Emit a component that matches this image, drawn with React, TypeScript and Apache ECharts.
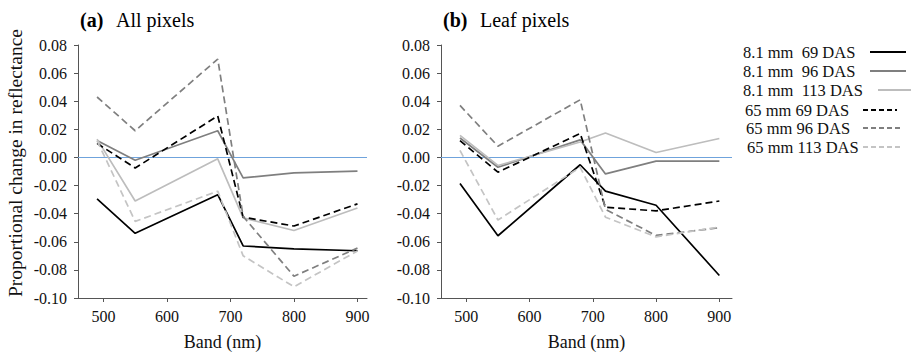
import React, { useEffect, useRef } from "react";
import * as echarts from "echarts";

const bands = [490, 550, 680, 720, 800, 900];
const bandTicks = [500, 600, 700, 800, 900];
const zeroLine = [0];
const seriesNames = [
  "8.1 mm  69 DAS",
  "8.1 mm  96 DAS",
  "8.1 mm  113 DAS",
  "65 mm 69 DAS",
  "65 mm 96 DAS",
  "65 mm 113 DAS",
];
const panelTitles = ["(a)", "(b)"];
const panelSubtitles = ["All pixels", "Leaf pixels"];

// (a) All pixels
const all81mm69 = [-0.0295, -0.054, -0.0265, -0.063, -0.065, -0.0664];
const all81mm96 = [0.012, -0.002, 0.019, -0.0145, -0.011, -0.0098];
const all81mm113 = [0.013, -0.031, -0.001, -0.043, -0.052, -0.036];
const all65mm69 = [0.01, -0.0075, 0.0295, -0.0425, -0.0488, -0.033];
const all65mm96 = [0.043, 0.019, 0.07, -0.042, -0.0845, -0.0645];
const all65mm113 = [0.012, -0.0455, -0.024, -0.07, -0.092, -0.0665];

// (b) Leaf pixels
const leaf81mm69 = [-0.0185, -0.0557, -0.0052, -0.024, -0.034, -0.084];
const leaf81mm96 = [0.0138, -0.007, 0.0125, -0.0117, -0.0026, -0.0026];
const leaf81mm113 = [0.0157, -0.0057, 0.011, 0.0174, 0.0035, 0.0135];
const leaf65mm69 = [0.012, -0.0105, 0.017, -0.0355, -0.038, -0.031];
const leaf65mm96 = [0.037, 0.008, 0.041, -0.037, -0.0555, -0.05];
const leaf65mm113 = [0.005, -0.0445, -0.007, -0.0425, -0.0565, -0.0495];

const allPixels = [all81mm69, all81mm96, all81mm113, all65mm69, all65mm96, all65mm113];
const leafPixels = [leaf81mm69, leaf81mm96, leaf81mm113, leaf65mm69, leaf65mm96, leaf65mm113];

const FAMILY = "Liberation Serif, Times New Roman, serif";
const FONTSTACK = "'Liberation Serif', 'Times New Roman', serif";
const lineColors = ["#000000", "#7f7f7f", "#bdbdbd", "#000000", "#7f7f7f", "#c4c4c4"];
const dashed = [false, false, false, true, true, true];
const DASH = [7, 4];
const ZERO_COLOR = "#6fa3dc";

// legend layout (visual positions only)
const legendRows = [
  { tx: 743, y: 52, x1: 870, x2: 906 },
  { tx: 743, y: 71, x1: 870, x2: 906 },
  { tx: 743, y: 90, x1: 878, x2: 911 },
  { tx: 745, y: 110, x1: 863, x2: 897 },
  { tx: 746, y: 128, x1: 863, x2: 900 },
  { tx: 747, y: 147, x1: 863, x2: 900 },
];

function App() {
  const ref = useRef<HTMLDivElement>(null);
  useEffect(() => {
    if (!ref.current) return;
    const chart = echarts.init(ref.current, undefined, { renderer: "svg" });

    const axisColor = "#555555";
    const mkX = (idx: number, max: number) => ({
      type: "value",
      gridIndex: idx,
      min: 460,
      max,
      name: "Band (nm)",
      nameLocation: "middle",
      nameGap: 35,
      nameTextStyle: { fontFamily: FAMILY, fontSize: 18, color: "#111" },
      axisLine: { show: true, onZero: false, lineStyle: { color: axisColor, width: 1 } },
      axisTick: { show: true, length: 4, customValues: bandTicks, lineStyle: { color: axisColor } },
      axisLabel: {
        customValues: bandTicks,
        fontFamily: FAMILY,
        fontSize: 16,
        color: "#111",
        margin: 10,
      },
      splitLine: { show: false },
    });
    const mkY = (idx: number) => ({
      type: "value",
      gridIndex: idx,
      min: -0.1,
      max: 0.08,
      interval: 0.02,
      axisLine: { show: true, onZero: false, lineStyle: { color: axisColor, width: 1 } },
      axisTick: { show: true, length: 4, lineStyle: { color: axisColor } },
      axisLabel: {
        fontFamily: FAMILY,
        fontSize: 16,
        color: "#111",
        margin: 11,
        formatter: (v: number) => (Math.abs(v) < 1e-9 ? "0.00" : v.toFixed(2)),
      },
      splitLine: { show: false },
    });

    const series: any[] = [];
    [allPixels, leafPixels].forEach((panel, p) => {
      panel.forEach((vals, i) => {
        const s: any = {
          name: seriesNames[i],
          type: "line",
          xAxisIndex: p,
          yAxisIndex: p,
          data: bands.map((b, k) => [b, vals[k]]),
          symbol: "none",
          color: lineColors[i],
          lineStyle: {
            color: lineColors[i],
            width: 1.7,
            type: dashed[i] ? DASH : "solid",
          },
          z: 3 + i,
        };
        if (i === 0) {
          s.markLine = {
            silent: true,
            symbol: ["none", "none"],
            label: { show: false },
            itemStyle: { color: ZERO_COLOR },
            lineStyle: { color: ZERO_COLOR, width: 1.2, type: "solid", opacity: 1 },
            data: zeroLine.map((v) => ({
              yAxis: v,
              lineStyle: { color: ZERO_COLOR, width: 1.2, type: "solid" },
            })),
            z: 1,
          };
        }
        series.push(s);
      });
    });

    const graphics: any[] = [];
    const titleX = [80, 443];
    const subX = [116, 480];
    for (let p = 0; p < 2; p++) {
      graphics.push({
        type: "text",
        x: titleX[p],
        y: 20,
        style: {
          text: panelTitles[p],
          font: `bold 20px ${FONTSTACK}`,
          fill: "#000",
          verticalAlign: "middle",
        },
      });
      graphics.push({
        type: "text",
        x: subX[p],
        y: 20,
        style: {
          text: panelSubtitles[p],
          font: `20px ${FONTSTACK}`,
          fill: "#000",
          verticalAlign: "middle",
        },
      });
    }
    graphics.push({
      type: "text",
      x: 15,
      y: 163,
      rotation: Math.PI / 2,
      style: {
        text: "Proportional change in reflectance",
        font: `19.5px ${FONTSTACK}`,
        fill: "#111",
        align: "center",
        verticalAlign: "middle",
      },
    });
    legendRows.forEach((r, i) => {
      graphics.push({
        type: "text",
        x: r.tx,
        y: r.y,
        style: {
          text: seriesNames[i],
          font: `16.5px ${FONTSTACK}`,
          fill: "#111",
          verticalAlign: "middle",
        },
      });
      graphics.push({
        type: "line",
        shape: { x1: r.x1, y1: r.y, x2: r.x2, y2: r.y },
        style: {
          stroke: lineColors[i],
          lineWidth: 1.8,
          lineDash: dashed[i] ? [5, 3] : null,
        },
      });
    });

    chart.setOption({
      animation: false,
      grid: [
        { left: 78, top: 45, width: 289, height: 253, outerBoundsMode: "none", containLabel: false },
        { left: 441, top: 45, width: 291, height: 253, outerBoundsMode: "none", containLabel: false },
      ],
      xAxis: [mkX(0, 915), mkX(1, 920)],
      yAxis: [mkY(0), mkY(1)],
      series,
      graphic: graphics,
    });

    return () => chart.dispose();
  }, []);

  return <div ref={ref} style={{ width: 911, height: 352, position: "absolute", left: 0, top: 0, background: "#fff" }} />;
}

export default App;
